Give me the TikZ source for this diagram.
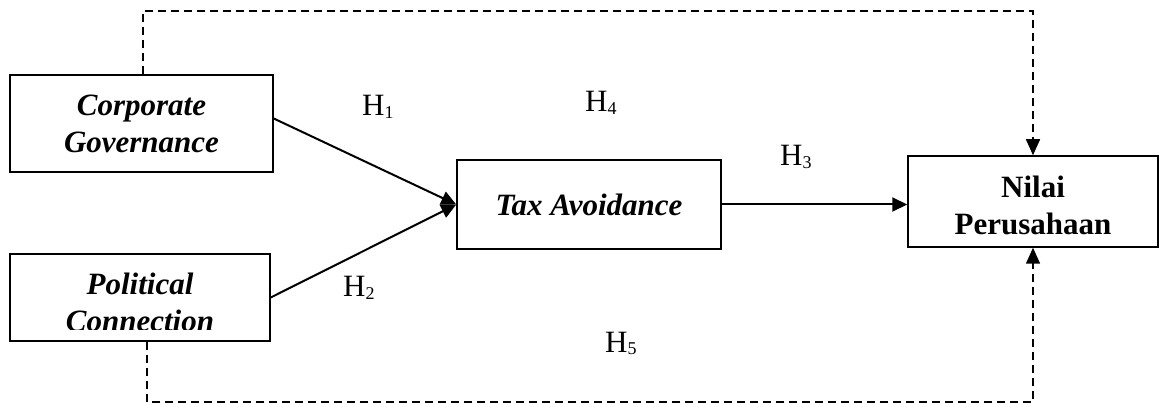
\documentclass[tikz,border=0pt]{standalone}
\usepackage{fontspec}
\setmainfont{Liberation Serif}
\usetikzlibrary{arrows.meta}

\newcommand{\hyp}[1]{H\raisebox{-2.5pt}{\fontsize{18}{18}\selectfont #1}}

\begin{document}
\begin{tikzpicture}[x=1pt,y=-1pt,
  box/.style={draw,line width=1.5pt,inner sep=0pt,align=center,font=\fontsize{31}{37}\selectfont\bfseries\itshape},
  link/.style={line width=2pt,-{Triangle[length=15pt,width=14pt]}},
  dashlink/.style={line width=1.5pt,dash pattern=on 8pt off 5pt,-{Triangle[length=16pt,width=14pt]}},
  hlab/.style={inner sep=0pt,anchor=base west,font=\fontsize{31}{37}\selectfont}]
  \useasboundingbox (0,0) rectangle (1159,403);

  \node[box,minimum width=263pt,minimum height=97pt] (cg) at (141.5,123.5) {Corporate\\Governance};
  \node[box,minimum width=260pt,minimum height=87pt] (pc) at (140,297.5) {};
  \node[box,minimum width=264pt,minimum height=89pt] (ta) at (589,204.5) {Tax Avoidance};
  \node[box,font=\fontsize{31}{37}\selectfont\bfseries,minimum width=250pt,minimum height=91pt] (np) at (1033,201.5) {\rule{0pt}{30pt}Nilai\\Perusahaan};

  \begin{scope}
    \clip (pc.north west) rectangle ([yshift=12pt]pc.south east);
    \node[box,draw=none] (pctext) at (140,302.5) {Political\\Connection};
  \end{scope}

  \draw[link] ([yshift=5pt]cg.east) -- (ta.west);
  \draw[link] (pc.east) -- (ta.west);
  \draw[link] (ta.east) -- (ta.east -| np.west);
  \draw[dashlink] ([xshift=1.5pt]cg.north) -- ++(0,-63) -| (np.north);
  \draw[dashlink] ([xshift=7pt]pc.south) -- ++(0,60) -| (np.south);

  \node[hlab] (h1) at (362,116) {\hyp{1}};
  \node[hlab] (h2) at (343,297) {\hyp{2}};
  \node[hlab] (h3) at (780,166) {\hyp{3}};
  \node[hlab] (h4) at (585,112) {\hyp{4}};
  \node[hlab] (h5) at (605,352) {\hyp{5}};
\end{tikzpicture}
\end{document}
